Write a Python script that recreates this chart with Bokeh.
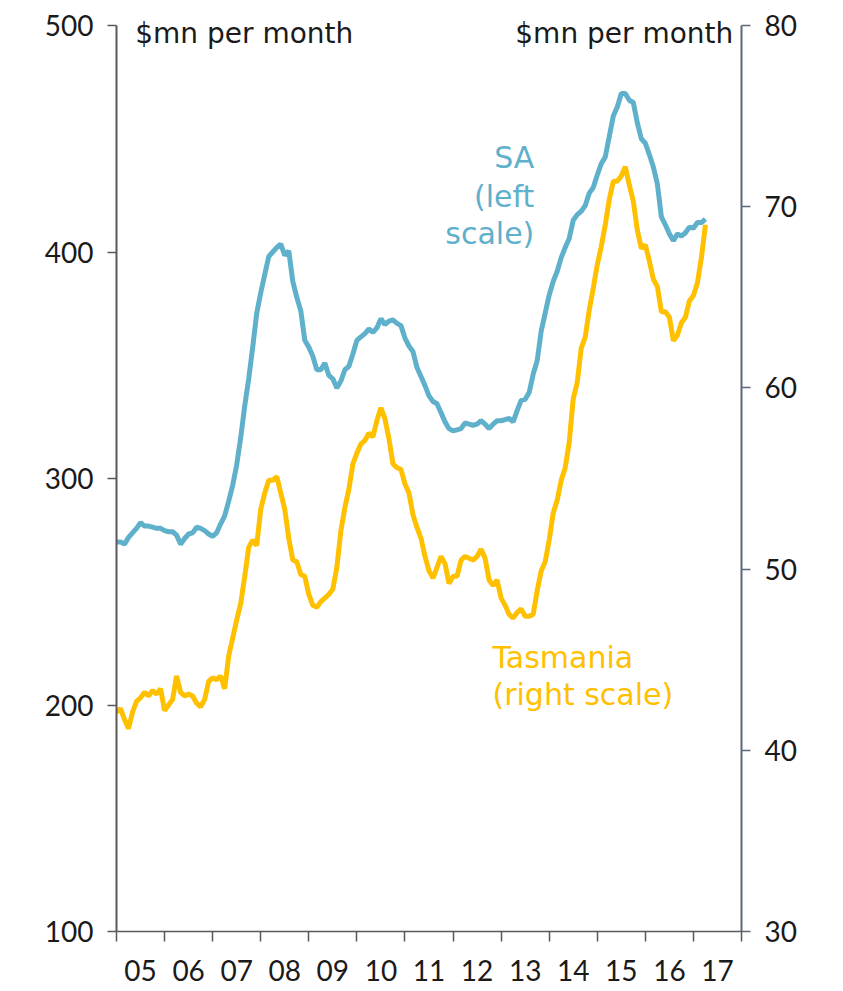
from bokeh.plotting import figure
from bokeh.models import Range1d, LinearAxis, FixedTicker, Label, ColumnDataSource, CustomJSTickFormatter
from bokeh.embed import file_html
from bokeh.resources import INLINE

# Monthly data from Jan 2005
start_year = 2005
sa = [272, 272, 271, 274, 276, 278, 280.5, 279, 279, 278.5, 278, 278,
      277, 276.5, 276.5, 275, 271, 273.5, 275.5, 276, 278.5, 278, 277, 275.5,
      274.5, 276, 280, 283.5, 290, 297, 306, 318, 332, 344, 358, 373,
      382, 390, 398, 400, 402, 403.5, 398.5, 400.5, 387, 380, 374, 361,
      358, 354, 348, 348, 351, 345.5, 344, 340, 343, 348, 349.5, 355,
      361, 362.5, 364, 366, 364.5, 366.5, 370.5, 368, 369.5, 370, 368.5, 367.5,
      362, 358.5, 356, 349, 345, 341, 336.5, 334, 333, 329, 325, 322,
      321, 321.5, 322, 324.5, 324, 323.5, 324, 325.5, 324, 322, 324, 325.5,
      325.5, 326, 326.5, 325, 330, 334.5, 335, 338, 346, 352, 365, 373,
      381, 387, 391.5, 397.5, 402, 406, 414, 416.5, 418, 420.5, 426, 428.5,
      434, 439, 442, 451, 460, 464, 470, 470, 467, 466, 457, 450,
      448, 443, 437.5, 430, 415.5, 412, 408, 405, 408, 407, 408.5, 411,
      410.5, 413, 413, 414.5]
tas = [42.1, 42.3, 41.7, 41.2, 42.1, 42.7, 42.9, 43.2, 43.0, 43.3, 43.1, 43.4,
       42.2, 42.5, 42.8, 44.1, 43.2, 43.0, 43.1, 43.0, 42.6, 42.4, 42.8, 43.8,
       44.0, 43.9, 44.1, 43.4, 45.2, 46.2, 47.2, 48.1, 49.6, 51.2, 51.6, 51.3,
       53.3, 54.2, 54.9, 54.9, 55.1, 54.2, 53.3, 51.7, 50.5, 50.4, 49.7, 49.6,
       48.6, 48.0, 47.9, 48.2, 48.4, 48.6, 48.9, 50.1, 52.1, 53.4, 54.4, 55.8,
       56.4, 56.9, 57.1, 57.5, 57.3, 58.2, 58.9, 58.3, 57.2, 55.8, 55.6, 55.5,
       54.7, 54.2, 53.0, 52.3, 51.7, 50.7, 49.9, 49.5, 50.1, 50.7, 50.3, 49.2,
       49.6, 49.6, 50.5, 50.7, 50.6, 50.5, 50.7, 51.1, 50.6, 49.4, 49.1, 49.4,
       48.4, 48.0, 47.5, 47.3, 47.6, 47.8, 47.4, 47.4, 47.5, 48.8, 49.9, 50.4,
       51.6, 53.1, 53.8, 54.9, 55.6, 57.0, 59.4, 60.3, 62.2, 62.8, 64.3, 65.5,
       66.8, 67.8, 69.0, 70.4, 71.4, 71.4, 71.7, 72.2, 71.2, 70.3, 68.7, 67.7,
       67.9, 67.0, 66.0, 65.6, 64.2, 64.2, 63.9, 62.6, 62.9, 63.6, 63.9, 64.8,
       65.1, 65.8, 67.2, 69.0]
year_ticks = list(range(2005, 2019))
left_ticks = [100, 200, 300, 400, 500]
right_ticks = [30, 40, 50, 60, 70, 80]

dates = [start_year + i / 12 for i in range(len(sa))]
src = ColumnDataSource(dict(x=dates, sa=sa, tas=tas))

SA_COL = "#5FB0CA"
TAS_COL = "#FFC000"
AX_COL = "#595959"
NUM_FONT = "Lato"
TXT_FONT = "DejaVu Sans"

# frame extends 20px above the top tick so the unit labels are not clipped
TOP_PAD = 20
p = figure(width=835, height=990, x_range=Range1d(2005, 2018),
           y_range=Range1d(100, 500 + TOP_PAD * 400 / 906),
           output_backend="svg", toolbar_location=None,
           min_border_left=116, min_border_right=94, min_border_top=5, min_border_bottom=59,
           y_axis_location="left")
p.extra_y_ranges = {"tas": Range1d(30, 80 + TOP_PAD * 50 / 906)}
p.outline_line_color = None
p.xgrid.grid_line_color = None
p.ygrid.grid_line_color = None
p.background_fill_color = "white"

p.line("x", "sa", source=src, line_color=SA_COL, line_width=5)
p.line("x", "tas", source=src, line_color=TAS_COL, line_width=5, y_range_name="tas")

# bottom axis: ticks at year boundaries, labels in middle of years
xa = p.xaxis[0]
xa.ticker = FixedTicker(ticks=[y + 0.5 for y in year_ticks[:-1]], minor_ticks=year_ticks)
xa.formatter = CustomJSTickFormatter(code="return String(Math.floor(tick) % 100).padStart(2, '0');")
xa.major_tick_out = 0
xa.major_tick_in = 0
xa.minor_tick_out = 10
xa.minor_tick_in = 0
xa.minor_tick_line_color = AX_COL
xa.minor_tick_line_width = 1.5
xa.axis_line_color = AX_COL
xa.axis_line_width = 1.5
xa.major_label_standoff = 18
xa.major_label_text_font = NUM_FONT
xa.major_label_text_font_size = "28px"
xa.major_label_text_color = "#1a1a1a"

ya = p.yaxis[0]
ya.ticker = FixedTicker(ticks=left_ticks)
ya.bounds = (100, 500)
ya.major_tick_out = 9
ya.major_tick_in = 0
ya.minor_tick_out = 0
ya.minor_tick_in = 0
ya.axis_line_color = AX_COL
ya.major_tick_line_color = AX_COL
ya.axis_line_width = 2
ya.major_tick_line_width = 1.5
ya.major_label_standoff = 14
ya.major_label_text_font = NUM_FONT
ya.major_label_text_font_size = "28px"
ya.major_label_text_color = "#1a1a1a"

ra = LinearAxis(y_range_name="tas", ticker=FixedTicker(ticks=right_ticks), bounds=(30, 80))
ra.major_tick_out = 9
ra.major_tick_in = 0
ra.minor_tick_out = 0
ra.minor_tick_in = 0
ra.axis_line_color = "#5A6876"
ra.major_tick_line_color = "#5A6876"
ra.axis_line_width = 2
ra.major_tick_line_width = 1.5
ra.major_label_standoff = 14
ra.major_label_text_font = NUM_FONT
ra.major_label_text_font_size = "28px"
ra.major_label_text_color = "#1a1a1a"
p.add_layout(ra, "right")

def lab(x, y, text, color, size, align, font=TXT_FONT):
    p.add_layout(Label(x=x, y=y, text=text, text_color=color, text_font=font,
                       text_font_size=size, text_align=align, text_baseline="middle"))

lab(2005.39, 496.5, "$mn per month", "#1a1a1a", "28px", "left")
lab(2017.83, 496.5, "$mn per month", "#1a1a1a", "28px", "right")
lab(2013.69, 441.7, "SA", SA_COL, "30px", "right")
lab(2013.69, 424.5, "(left", SA_COL, "30px", "right")
lab(2013.69, 408.2, "scale)", SA_COL, "30px", "right")
lab(2012.82, 221.0, "Tasmania", TAS_COL, "30px", "left")
lab(2012.82, 204.6, "(right scale)", TAS_COL, "30px", "left")

open("out.html", "w").write(file_html(p, INLINE))
